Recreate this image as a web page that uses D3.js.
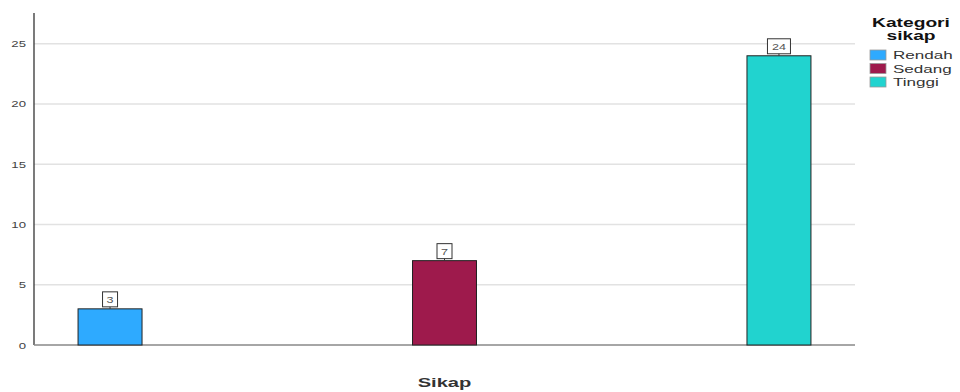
<!DOCTYPE html>
<html><head><meta charset="utf-8">
<script src="https://cdn.jsdelivr.net/npm/d3@7"></script>
<style>body{margin:0;background:#fff}svg{display:block}text{font-family:"Liberation Sans",Arial,sans-serif}</style>
</head><body><svg id="c" width="960" height="392"></svg>
<script>
const categories = ["Rendah", "Sedang", "Tinggi"];
const counts = [3, 7, 24];
const colors = ["#2EAAFF", "#9E1A4C", "#21D3CF"];
const yTicks = [0, 5, 10, 15, 20, 25];
const legendTitle = ["Kategori", "sikap"];
const xTitle = "Sikap";

const SX = 1.55; // horizontal stretch of text as in the reference
const svg = d3.select("#c");
const L = 34, R = 855, T = 13, B = 345;
const x = d3.scaleBand().domain(categories).range([L, R]).paddingInner(0.8087).paddingOuter(0.1317);
const y = d3.scaleLinear().domain([0, 27.55]).range([B, T]);

function stext(parent, px, py, str, opts) {
  const t = parent.append("text")
    .attr("transform", `translate(${px},${py}) scale(${opts.sx || SX},1)`)
    .attr("text-anchor", opts.anchor || "start")
    .attr("font-size", opts.size).attr("fill", opts.fill || "#333")
    .attr("font-weight", opts.weight || "normal").text(str);
  return t;
}

// gridlines
svg.append("g").selectAll("line").data(yTicks.slice(1)).join("line")
  .attr("x1", L).attr("x2", R).attr("y1", d => y(d)).attr("y2", d => y(d))
  .attr("stroke", "#e2e2e2").attr("stroke-width", 1.5);

// y axis (ticks from scale)
const ya = svg.append("g").attr("transform", `translate(${L},0)`)
  .call(d3.axisLeft(y).tickValues(yTicks).tickSize(0).tickPadding(8));
ya.select(".domain").remove();
ya.selectAll(".tick text").each(function (d) {
  const el = d3.select(this);
  el.attr("x", null).attr("dy", null).attr("text-anchor", "end")
    .attr("transform", `translate(-8,3) scale(${SX},1)`)
    .attr("font-size", 8.5).attr("fill", "#444");
});
svg.append("line").attr("x1", L).attr("x2", L).attr("y1", T).attr("y2", B).attr("stroke", "#333").attr("stroke-width", 1.3);
svg.append("line").attr("x1", L).attr("x2", R).attr("y1", B).attr("y2", B).attr("stroke", "#888").attr("stroke-width", 1.3);

// bars
svg.append("g").selectAll("rect").data(categories).join("rect")
  .attr("x", d => x(d)).attr("width", x.bandwidth())
  .attr("y", (d, i) => y(counts[i])).attr("height", (d, i) => B - y(counts[i]))
  .attr("fill", (d, i) => colors[i]).attr("stroke", "#222").attr("stroke-width", 1);

// value labels
const lab = svg.append("g").selectAll("g").data(categories).join("g")
  .attr("transform", (d, i) => `translate(${x(d) + x.bandwidth() / 2},${y(counts[i])})`);
lab.each(function (d, i) {
  const g = d3.select(this);
  const w = String(counts[i]).length > 1 ? 23 : 15;
  g.append("rect").attr("x", -w / 2).attr("y", -17).attr("width", w).attr("height", 15)
    .attr("fill", "#fff").attr("stroke", "#333").attr("stroke-width", 1);
  g.append("line").attr("x1", 0).attr("x2", 0).attr("y1", -2).attr("y2", 0).attr("stroke", "#333");
  stext(g, 0, -6, counts[i], { size: 9, anchor: "middle", fill: "#555", sx: 1.4 });
});

// x title
stext(svg, x("Sedang") + x.bandwidth() / 2, 387, xTitle, { size: 13, anchor: "middle", weight: "bold", fill: "#333" });

// legend
const lg = svg.append("g");
legendTitle.forEach((t, i) => stext(lg, 911, 27 + i * 12.5, t, { size: 12, anchor: "middle", weight: "bold", fill: "#111", sx: 1.6 }));
const li = lg.selectAll("g.li").data(categories).join("g").attr("class", "li")
  .attr("transform", (d, i) => `translate(870,${50 + i * 13.5})`);
li.append("rect").attr("width", 16).attr("height", 10).attr("fill", (d, i) => colors[i]).attr("stroke", "#999").attr("stroke-width", 0.8);
li.each(function (d) { stext(d3.select(this), 23, 9, d, { size: 11, fill: "#333", sx: 1.55 }); });
</script></body></html>
